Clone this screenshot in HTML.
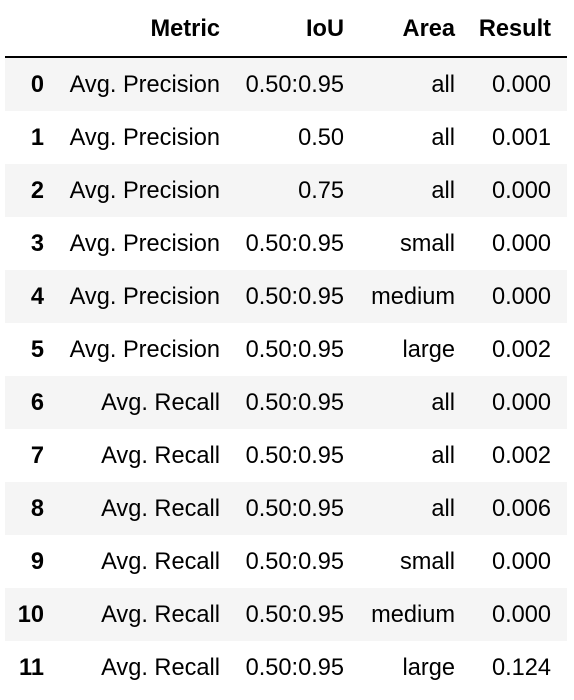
<!DOCTYPE html>
<html><head><meta charset="utf-8"><style>
body{margin:0;background:#fff;width:574px;height:700px;overflow:hidden;font-family:"Liberation Sans",Arial,sans-serif;color:#000}
.r{position:absolute;left:5px;width:562px;height:53px}
.s{background:#f5f5f5}
.c{position:absolute;top:1px;font-size:23.6px;line-height:53px;text-align:right;white-space:nowrap}
.b{font-weight:bold}
</style></head><body>
<div id="t"></div>
<script>
const idx=[0,1,2,3,4,5,6,7,8,9,10,11];
const metric=["Avg. Precision","Avg. Precision","Avg. Precision","Avg. Precision","Avg. Precision","Avg. Precision","Avg. Recall","Avg. Recall","Avg. Recall","Avg. Recall","Avg. Recall","Avg. Recall"];
const iou=["0.50:0.95","0.50","0.75","0.50:0.95","0.50:0.95","0.50:0.95","0.50:0.95","0.50:0.95","0.50:0.95","0.50:0.95","0.50:0.95","0.50:0.95"];
const area=["all","all","all","small","medium","large","all","all","all","small","medium","large"];
const result=["0.000","0.001","0.000","0.000","0.000","0.002","0.000","0.002","0.006","0.000","0.000","0.124"];
const headers=["","Metric","IoU","Area","Result"];
const rights=[44,220,344,455,551];
const t=document.getElementById('t');
function cell(parent,txt,right,bold){
  const d=document.createElement('div');
  d.className='c'+(bold?' b':'');
  d.style.right=(567-right)+'px';
  d.textContent=txt;
  
  
  parent.appendChild(d);
}
const h=document.createElement('div');
h.className='r';h.style.top='2px';


headers.forEach((x,i)=>cell(h,x,rights[i],true));
t.appendChild(h);
const line=document.createElement('div');
line.style.cssText='position:absolute;left:5px;width:562px;top:56px;height:2px;background:#000';


t.appendChild(line);
idx.forEach((k,i)=>{
  const r=document.createElement('div');
  r.className='r'+(i%2===0?' s':'');
  r.style.top=(58+i*53)+'px';
  
  
  cell(r,String(k),rights[0],true);
  cell(r,metric[i],rights[1]);
  cell(r,iou[i],rights[2]);
  cell(r,area[i],rights[3]);
  cell(r,result[i],rights[4]);
  t.appendChild(r);
});
</script>
</body></html>
